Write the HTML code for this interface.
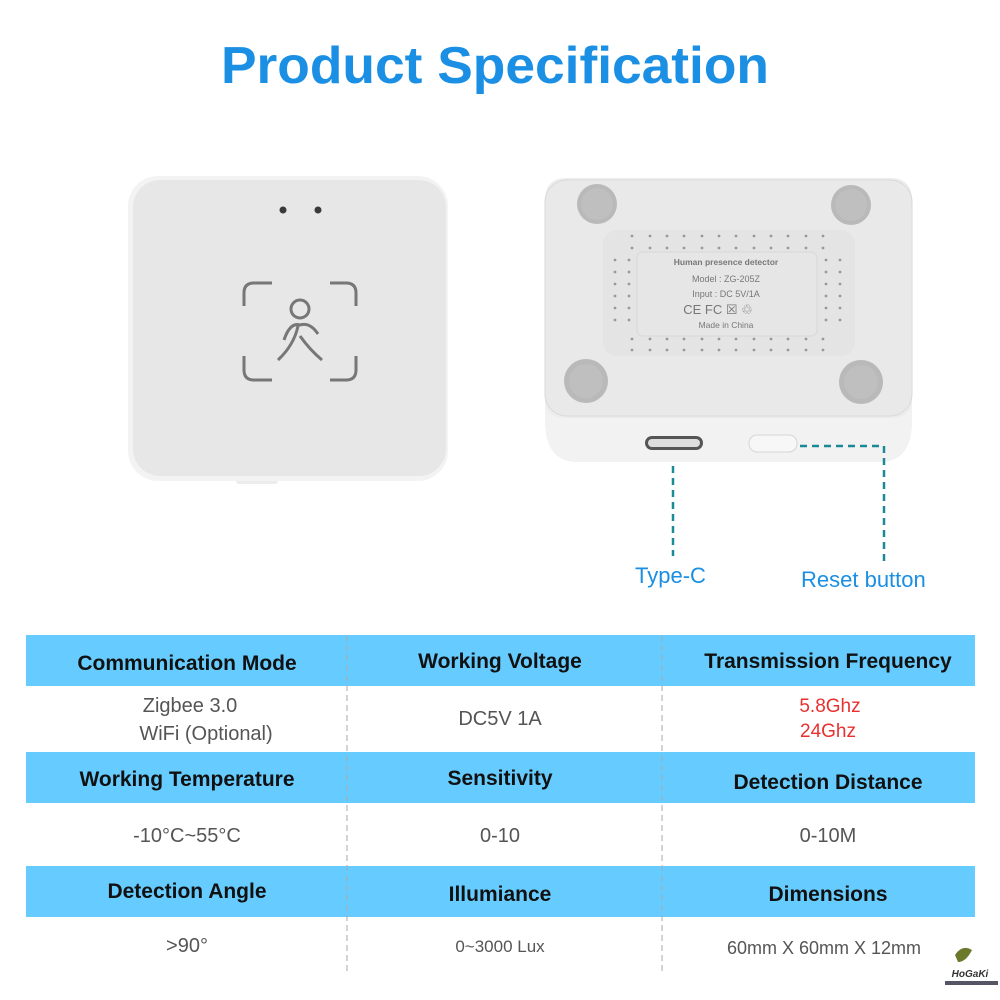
<!DOCTYPE html>
<html><head><meta charset="utf-8"><style>
html,body{margin:0;padding:0;background:#fff;}
svg{display:block;font-family:"Liberation Sans",Arial,sans-serif;}
</style></head><body>
<svg width="1000" height="1000" viewBox="0 0 1000 1000" xmlns="http://www.w3.org/2000/svg">
<rect width="1000" height="1000" fill="#fff"/>
<text x="495" y="83" text-anchor="middle" font-size="52" font-weight="bold" fill="#1a8fe3" textLength="548" lengthAdjust="spacingAndGlyphs">Product Specification</text>

<!-- left device -->
<rect x="236" y="474" width="42" height="10" rx="3" fill="#ececec"/>
<rect x="128" y="176" width="320" height="305" rx="30" fill="#f3f3f3"/>
<rect x="133" y="180" width="313" height="296" rx="27" fill="#e7e7e7"/>
<circle cx="283" cy="210" r="3.5" fill="#3a3a3a"/>
<circle cx="318" cy="210" r="3.5" fill="#3a3a3a"/>
<g fill="none" stroke="#777" stroke-width="3">
<path d="M272 283 H254 Q244 283 244 293 V306"/>
<path d="M330 283 H346 Q356 283 356 293 V306"/>
<path d="M244 356 V370 Q244 380 254 380 H272"/>
<path d="M356 356 V370 Q356 380 346 380 H330"/>
<circle cx="300" cy="309" r="9"/>
<path d="M284 340 Q290 322 300 325 Q310 322 318 334"/>
<path d="M298 326 Q294 345 278 360"/>
<path d="M300 336 Q310 350 322 360"/>
</g>

<!-- right device -->
<path d="M545 200 Q545 178 567 178 H890 Q912 178 912 200 V420 Q912 462 880 462 H578 Q545 462 545 420 Z" fill="#ececec"/>
<rect x="545" y="180" width="367" height="236" rx="22" fill="#e9e9e9" stroke="#dadada"/>
<path d="M545 400 V420 Q545 462 580 462 H880 Q912 462 912 420 V400 Q912 418 890 418 H567 Q545 418 545 400 Z" fill="#f2f2f2"/>
<rect x="603" y="230" width="252" height="126" rx="14" fill="#e4e4e4"/>
<rect x="637" y="252" width="180" height="84" rx="6" fill="#e6e6e6" stroke="#d8d8d8"/>
<circle cx="597" cy="204" r="20" fill="#b9b9b9"/><circle cx="597" cy="204" r="16" fill="#bfbfbf"/>
<circle cx="851" cy="205" r="20" fill="#b9b9b9"/><circle cx="851" cy="205" r="16" fill="#bfbfbf"/>
<circle cx="586" cy="381" r="22" fill="#b9b9b9"/><circle cx="586" cy="381" r="17" fill="#bfbfbf"/>
<circle cx="861" cy="382" r="22" fill="#b9b9b9"/><circle cx="861" cy="382" r="17" fill="#bfbfbf"/>
<g fill="#999">
<circle cx="632" cy="236" r="1.4"/><circle cx="650" cy="236" r="1.4"/><circle cx="667" cy="236" r="1.4"/><circle cx="684" cy="236" r="1.4"/><circle cx="702" cy="236" r="1.4"/><circle cx="719" cy="236" r="1.4"/><circle cx="736" cy="236" r="1.4"/><circle cx="754" cy="236" r="1.4"/><circle cx="771" cy="236" r="1.4"/><circle cx="788" cy="236" r="1.4"/><circle cx="806" cy="236" r="1.4"/><circle cx="823" cy="236" r="1.4"/>
<circle cx="632" cy="248" r="1.4"/><circle cx="650" cy="248" r="1.4"/><circle cx="667" cy="248" r="1.4"/><circle cx="684" cy="248" r="1.4"/><circle cx="702" cy="248" r="1.4"/><circle cx="719" cy="248" r="1.4"/><circle cx="736" cy="248" r="1.4"/><circle cx="754" cy="248" r="1.4"/><circle cx="771" cy="248" r="1.4"/><circle cx="788" cy="248" r="1.4"/><circle cx="806" cy="248" r="1.4"/><circle cx="823" cy="248" r="1.4"/>
<circle cx="632" cy="339" r="1.4"/><circle cx="650" cy="339" r="1.4"/><circle cx="667" cy="339" r="1.4"/><circle cx="684" cy="339" r="1.4"/><circle cx="702" cy="339" r="1.4"/><circle cx="719" cy="339" r="1.4"/><circle cx="736" cy="339" r="1.4"/><circle cx="754" cy="339" r="1.4"/><circle cx="771" cy="339" r="1.4"/><circle cx="788" cy="339" r="1.4"/><circle cx="806" cy="339" r="1.4"/><circle cx="823" cy="339" r="1.4"/>
<circle cx="632" cy="350" r="1.4"/><circle cx="650" cy="350" r="1.4"/><circle cx="667" cy="350" r="1.4"/><circle cx="684" cy="350" r="1.4"/><circle cx="702" cy="350" r="1.4"/><circle cx="719" cy="350" r="1.4"/><circle cx="736" cy="350" r="1.4"/><circle cx="754" cy="350" r="1.4"/><circle cx="771" cy="350" r="1.4"/><circle cx="788" cy="350" r="1.4"/><circle cx="806" cy="350" r="1.4"/><circle cx="823" cy="350" r="1.4"/>
<circle cx="615" cy="260" r="1.4"/><circle cx="629" cy="260" r="1.4"/><circle cx="615" cy="272" r="1.4"/><circle cx="629" cy="272" r="1.4"/><circle cx="615" cy="284" r="1.4"/><circle cx="629" cy="284" r="1.4"/><circle cx="615" cy="296" r="1.4"/><circle cx="629" cy="296" r="1.4"/><circle cx="615" cy="308" r="1.4"/><circle cx="629" cy="308" r="1.4"/><circle cx="615" cy="320" r="1.4"/><circle cx="629" cy="320" r="1.4"/>
<circle cx="826" cy="260" r="1.4"/><circle cx="840" cy="260" r="1.4"/><circle cx="826" cy="272" r="1.4"/><circle cx="840" cy="272" r="1.4"/><circle cx="826" cy="284" r="1.4"/><circle cx="840" cy="284" r="1.4"/><circle cx="826" cy="296" r="1.4"/><circle cx="840" cy="296" r="1.4"/><circle cx="826" cy="308" r="1.4"/><circle cx="840" cy="308" r="1.4"/><circle cx="826" cy="320" r="1.4"/><circle cx="840" cy="320" r="1.4"/>
</g>
<g fill="#777" text-anchor="middle">
<text x="726" y="265" font-size="8.5" font-weight="bold">Human presence detector</text>
<text x="726" y="282" font-size="9">Model : ZG-205Z</text>
<text x="726" y="297" font-size="9">Input :  DC 5V/1A</text>
<text x="718" y="314" font-size="13">CE FC ☒ ♲</text>
<text x="726" y="328" font-size="8.5">Made in China</text>
</g>
<rect x="645" y="436" width="58" height="14" rx="7" fill="#555"/>
<rect x="648" y="439" width="52" height="8" rx="4" fill="#ddd"/>
<rect x="749" y="435" width="48" height="17" rx="8" fill="#f7f7f7" stroke="#d5d5d5"/>

<!-- connectors -->
<g stroke="#1a8a96" stroke-width="2.5" stroke-dasharray="7,5" fill="none">
<path d="M673 466 V556"/>
<path d="M800 446 H884 V565"/>
</g>
<text x="635" y="583" font-size="22" fill="#1a8fe3">Type-C</text>
<text x="801" y="587" font-size="22" fill="#1a8fe3">Reset button</text>

<!-- table -->
<g fill="#66ccff">
<rect x="26" y="635" width="949" height="51"/>
<rect x="26" y="752" width="949" height="51"/>
<rect x="26" y="866" width="949" height="51"/>
</g>
<g stroke="#aaa" stroke-width="1" stroke-dasharray="6,4">
<path d="M347 635 V972"/><path d="M662 635 V972"/>
</g>
<g font-weight="bold" font-size="21" fill="#111" text-anchor="middle">
<text x="187" y="670">Communication Mode</text>
<text x="500" y="668">Working Voltage</text>
<text x="828" y="668">Transmission Frequency</text>
<text x="187" y="786">Working Temperature</text>
<text x="500" y="785">Sensitivity</text>
<text x="828" y="789">Detection Distance</text>
<text x="187" y="898">Detection Angle</text>
<text x="500" y="901">Illumiance</text>
<text x="828" y="901">Dimensions</text>
</g>
<g font-size="20" fill="#555" text-anchor="middle">
<text x="190" y="712">Zigbee 3.0</text>
<text x="206" y="740">WiFi (Optional)</text>
<text x="500" y="725">DC5V 1A</text>
<text x="187" y="842">-10°C~55°C</text>
<text x="500" y="842">0-10</text>
<text x="828" y="842">0-10M</text>
<text x="187" y="952">&gt;90°</text>
<text x="500" y="952" font-size="17">0~3000 Lux</text>
<text x="824" y="954" font-size="18">60mm X 60mm X 12mm</text>
</g>
<g font-size="19" fill="#e8312f" text-anchor="middle">
<text x="830" y="712">5.8Ghz</text>
<text x="828" y="737">24Ghz</text>
</g>
<!-- logo -->
<path d="M955 955 Q962 944 972 950 Q966 962 958 962 Z" fill="#6a7a2a"/>
<text x="970" y="977" font-size="10" font-weight="bold" font-style="italic" fill="#333" text-anchor="middle">HoGaKi</text>
<rect x="945" y="981" width="53" height="4" fill="#556"/>
</svg>
</body></html>
